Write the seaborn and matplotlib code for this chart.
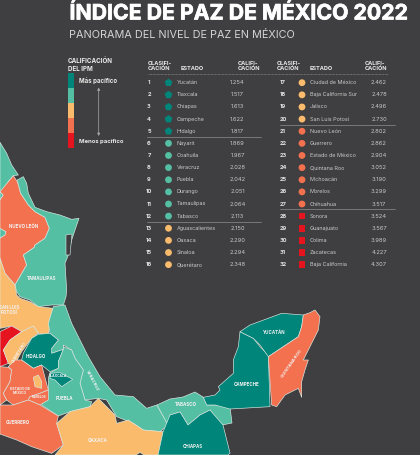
import matplotlib
matplotlib.use("Agg")
import matplotlib.pyplot as plt
import matplotlib.patheffects as pe
from matplotlib.patches import Rectangle
import pandas as pd
import seaborn as sns

# ---------- data ----------
states = ["Yucatán","Tlaxcala","Chiapas","Campeche","Hidalgo","Nayarit","Coahuila","Veracruz",
          "Puebla","Durango","Tamaulipas","Tabasco","Aguascalientes","Oaxaca","Sinaloa","Querétaro",
          "Ciudad de México","Baja California Sur","Jalisco","San Luis Potosí","Nuevo León","Guerrero",
          "Estado de México","Quintana Roo","Michoacán","Morelos","Chihuahua","Sonora","Guanajuato",
          "Colima","Zacatecas","Baja California"]
scores = [1.254,1.517,1.613,1.622,1.817,1.869,1.967,2.028,2.042,2.051,2.064,2.113,2.150,2.290,2.294,2.348,
          2.462,2.478,2.496,2.730,2.802,2.862,2.904,3.052,3.190,3.299,3.517,3.524,3.567,3.989,4.227,4.307]
tier_sizes = [5,7,8,7,5]
tier_colors = ["#00857a","#55bfa4","#fbbb6c","#f4714f","#e5141f"]
tier_markers = ["p","o","o","o","s"]
tier_areas = [34,24,24,24,22]
BG = "#3f3f41"

def c6(p): return [(x/3,130+y/3) for x,y in p]
def c7(p): return [(x/3,290+y/3) for x,y in p]
def c8(p): return [(170+x/3,310+y/3) for x,y in p]

coahuila = c6([(0,37),(20,70),(35,105),(55,135),(40,137),(25,155),(10,180),(0,185)])
coahuila2 = c6([(0,185),(10,195),(0,210)])
zac_bit = c6([(0,295),(18,305),(15,315),(0,325)])
nuevo_leon = c6([(40,137),(52,155),(62,190),(85,225),(105,245),(135,262),(148,295),(135,325),(105,345),(103,352),
                 (70,375),(80,405),(45,465),(15,430),(0,385),(0,325),(15,315),(18,305),(0,295),(0,210),(10,195),(0,185),(25,155)])
tamaulipas = c6([(52,150),(70,140),(80,160),(85,190),(105,232),(140,245),(180,255),(215,268),(237,265),(225,300),
                 (215,330),(205,375),(195,400),(200,480)]) + c7([(198,20),(190,45),(155,45),(115,50),(90,30),(60,20),(50,5)]) + c6([(45,465),(80,405),(70,375),(103,352),(105,345),(135,325),(148,295),(135,262),(105,245),(85,225),(62,190)])
san_luis = c6([(0,385),(15,430),(45,465)]) + c7([(50,15),(60,25),(90,35),(115,50),(160,55),(150,100),(145,135),(115,130),(100,108),(65,125),(35,108),(0,115)])
zacatecas = c7([(0,125),(35,108),(65,125),(30,150),(10,180),(25,220),(0,230)])
queretaro = c7([(65,125),(100,108),(115,130),(95,145),(65,185),(40,230),(25,220),(10,180),(30,150)])
hidalgo = c7([(150,130),(175,150),(155,175),(155,190),(190,178),(175,215),(175,235),(150,245),(125,225),(100,235),(65,210),(70,190),(95,145),(115,133)])
tlaxcala = c7([(150,250),(180,248),(218,268),(185,290),(165,270),(150,265)])
veracruz = c7([(160,50),(195,45),(215,100),(235,140),(265,200),(300,260),(345,315),(400,320),(440,355),(470,345),(505,405),
               (480,425),(430,420),(400,400),(350,380),(320,330),(295,325),(255,330),(240,280),(250,240),(225,205),(215,180),(190,165),(190,178),
               (155,190),(155,175),(175,150),(150,130),(145,100)])
puebla = c7([(190,170),(215,180),(225,205),(250,240),(240,280),(255,330),(275,335),(270,350),(210,365),(175,378),(125,345),
             (145,300),(145,265),(150,248),(175,235),(175,215),(190,178)])
michoacan = c7([(0,230),(25,232),(35,240),(30,275),(10,310),(20,330),(0,345)])
edomex = c7([(25,230),(45,210),(65,210),(100,235),(125,225),(145,300),(120,310),(90,320),(85,330),(40,345),(20,330),(10,310),(30,275),(35,240)])
morelos = c7([(85,330),(90,320),(120,310),(145,300),(145,330),(120,345)])
guerrero = c7([(0,345),(40,345),(85,330),(120,345),(175,378),(170,400),(190,465),(155,490),(95,470),(50,450),(0,432)])
cdmx = c7([(100,262),(115,255),(125,275),(125,295),(105,290)])
oaxaca = c7([(170,400),(210,365),(270,350),(295,325),(345,375),(350,400),(385,390),(430,420),(490,425),(475,495),(432,495),(420,487),(408,495),(165,495),(190,465)])
chiapas = [(158,455),(163,432),(170,415),(180,412),(188,425),(200,415),(210,410),(223,425),(230,453),(228,455)]
tabasco = [(157,405),(170,399),(183,397),(195,392),(203,397),(207,405),(215,405),(230,407),(232,423),(222,425),(210,410),(200,415),(188,425),(180,412),(170,415),(168,425)]
campeche = c8([(210,65),(250,85),(270,110),(295,135),(300,290),(180,297),(135,285),(110,285),(100,262),(135,255),(150,240),(145,230),(190,190),(190,150),(205,110)])
yucatan = c8([(210,65),(240,45),(335,10),(400,15),(395,50),(385,80),(295,140),(270,105),(250,85)])
quintana = c8([(400,15),(420,8),(435,0),(450,20),(445,60),(425,100),(400,150),(415,150),(405,180),(395,215),(395,262),(385,235),(345,255),(320,290),(305,285),(295,140),(385,80),(395,50)])

map_shapes = [("Coahuila",coahuila),("Coahuila",coahuila2),("Coahuila",zac_bit),("Nuevo León",nuevo_leon),("Tamaulipas",tamaulipas),
              ("San Luis Potosí",san_luis),("Zacatecas",zacatecas),("Querétaro",queretaro),("Veracruz",veracruz),("Hidalgo",hidalgo),
              ("Puebla",puebla),("Tlaxcala",tlaxcala),("Michoacán",michoacan),("Estado de México",edomex),("Morelos",morelos),
              ("Guerrero",guerrero),("Ciudad de México",cdmx),("Oaxaca",oaxaca),("Tabasco",tabasco),("Chiapas",chiapas),
              ("Campeche",campeche),("Yucatán",yucatan),("Quintana Roo",quintana)]
map_labels = [("NUEVO LEÓN",24,227,0,3.2),("TAMAULIPAS",42,279,0,3.2),("SAN LUIS\nPOTOSÍ",9,310,0,3.2),("QUERÉTARO",19,352,58,2.8),
              ("HIDALGO",36,357,0,3.2),("TLAXCALA",58,376,0,2.4),("VERACRUZ",92,381,-62,3.0),("PUEBLA",64,398,0,3.2),
              ("ESTADO DE\nMÉXICO",20,391,0,2.5),("MORELOS",39,397,0,2.1),("GUERRERO",18,423,0,3.2),("OAXACA",98,441,0,3.2),
              ("TABASCO",186,405,0,3.2),("CHIAPAS",193,446,0,3.2),("CAMPECHE",247,384,0,3.2),("YUCATÁN",274,332,0,3.2),("QUINTANA ROO",292,364,55,3.0)]

# ---------- table ----------
df = pd.DataFrame({"estado":states,"calif":scores})
df["rank"] = range(1,len(df)+1)
df["tier"] = sum([[i]*n for i,n in enumerate(tier_sizes)],[])
df["col"] = (df["rank"]>16).astype(int)
df["row"] = (df["rank"]-1)%16
df["y"] = 82.7+12.13*df["row"]
df["mx"] = df["col"].map({0:168.5,1:302})

tier_of = dict(zip(df["estado"],df["tier"]))

sns.set_theme(style="white")
plt.rcParams["font.family"] = ["Inter","DejaVu Sans"]
fig = plt.figure(figsize=(4.2,4.55),dpi=100,facecolor=BG)
ax = fig.add_axes([0,0,1,1],facecolor=BG)
ax.set_xlim(0,420); ax.set_ylim(455,0); ax.axis("off")

# map
for name,pts in map_shapes:
    xs,ys = zip(*pts)
    ax.fill(xs,ys,facecolor=tier_colors[tier_of[name]],edgecolor="#dcebe5",lw=0.45,joinstyle="round",zorder=2)
ax.fill([66,72,70,66],[235,234,255,255],facecolor=BG,edgecolor="#dcebe5",lw=0.4,zorder=3)
for label,x,y,rot,fs in map_labels:
    ax.text(x,y,label,color="#f2f2f2",fontsize=fs,ha="center",va="center",rotation=rot,weight="bold",
            linespacing=1.15,zorder=4,clip_on=True)

# markers
sns.scatterplot(data=df,x="mx",y="y",hue="tier",style="tier",size="tier",palette=tier_colors,
                markers=dict(enumerate(tier_markers)),sizes=dict(enumerate(tier_areas)),
                linewidth=0,legend=False,ax=ax,zorder=3)
ax.set_xlabel(""); ax.set_ylabel("")
ax.set_xlim(0,420); ax.set_ylim(455,0)

TXT="#c8c8c8"
for _,r in df.iterrows():
    c=int(r["col"])
    ax.text([149,283][c],r["y"],str(int(r["rank"])),color="#e4e4e4",fontsize=4.1,weight="bold",ha="center",va="center")
    ax.text([176.5,310][c],r["y"],r["estado"],color=TXT,fontsize=3.95,ha="left",va="center")
    ax.text([237.5,379][c],r["y"],f'{r["calif"]:.3f}',color=TXT,fontsize=4.2,ha="center",va="center")

HD="#e8e8e8"
for x,t in [(148,"CLASIFI-\nCACIÓN"),(181,"ESTADO"),(238,"CALIFI-\nCACIÓN"),(277,"CLASIFI-\nCACIÓN"),(310,"ESTADO"),(365,"CALIFI-\nCACIÓN")]:
    ax.text(x,71.5,t,color=HD,fontsize=4.0,weight="bold",ha="left",va="bottom",linespacing=1.15)
ax.plot([148,388],[73.5,73.5],color="#9a9a9a",lw=0.5,ls=(0,(1,1)))
for x0,x1,y in [(147,261,136.8),(147,261,221.8),(280,395,124.8),(280,395,209.3)]:
    ax.plot([x0,x1],[y,y],color="#8f8f8f",lw=0.5)

# title
ax.text(69.5,19.5,"ÍNDICE DE PAZ DE MÉXICO 2022",color="white",fontsize=15.3,weight="bold",ha="left",va="baseline",
        path_effects=[pe.withStroke(linewidth=0.5,foreground="white")])
ax.text(69,37.7,"PANORAMA DEL NIVEL DE PAZ EN MÉXICO",color="#d4d4d4",fontsize=7.8,ha="left",va="baseline")

# legend
ax.text(68,61,"CALIFICACIÓN",color=HD,fontsize=4.5,weight="bold",va="center")
ax.text(68,68.7,"DEL IPM",color=HD,fontsize=4.5,weight="bold",va="center")
seg = 15.1
for i,col in enumerate(tier_colors):
    ax.add_patch(Rectangle((68,73+i*seg),6,seg,facecolor=col,edgecolor="none",zorder=3))
ax.text(79,81,"Más pacífico",color=HD,fontsize=4.4,weight="bold",va="center")
ax.text(79,141,"Menos pacífico",color=HD,fontsize=4.3,weight="bold",va="center")
ax.annotate("",xy=(98.7,87.5),xytext=(98.7,136),arrowprops=dict(arrowstyle="<|-|>",color="#a8a8a8",lw=0.5,mutation_scale=4,shrinkA=0,shrinkB=0))

fig.savefig("out.png",dpi=100,facecolor=BG)
